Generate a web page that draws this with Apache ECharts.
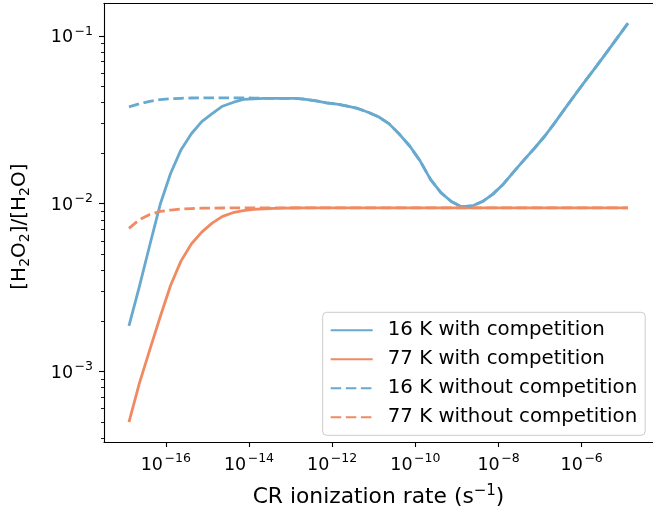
<!DOCTYPE html>
<html>
<head>
<meta charset="utf-8">
<script src="https://cdn.jsdelivr.net/npm/echarts@6/dist/echarts.min.js"></script>
<style>html,body{margin:0;padding:0;background:#fff}#c{width:653px;height:515px}</style>
</head>
<body>
<div id="c"></div>
<script>
// CR ionization rate (s^-1), 1.3e-17 x 10^(k/4)
const rate = [
  1.3e-17, 2.312e-17, 4.111e-17, 7.31e-17,
  1.3e-16, 2.312e-16, 4.111e-16, 7.31e-16,
  1.3e-15, 2.312e-15, 4.111e-15, 7.31e-15,
  1.3e-14, 2.312e-14, 4.111e-14, 7.31e-14,
  1.3e-13, 2.312e-13, 4.111e-13, 7.31e-13,
  1.3e-12, 2.312e-12, 4.111e-12, 7.31e-12,
  1.3e-11, 2.312e-11, 4.111e-11, 7.31e-11,
  1.3e-10, 2.312e-10, 4.111e-10, 7.31e-10,
  1.3e-9, 2.312e-9, 4.111e-9, 7.31e-9,
  1.3e-8, 2.312e-8, 4.111e-8, 7.31e-8,
  1.3e-7, 2.312e-7, 4.111e-7, 7.31e-7,
  1.3e-6, 2.312e-6, 4.111e-6, 7.31e-6,
  1.3e-5
];
const blueWith = [
  0.001864, 0.003198, 0.005642, 0.009865, 0.01511, 0.02087, 0.02606, 0.03078, 0.03431, 0.03802,
  0.04004, 0.04181, 0.04210, 0.04239, 0.04239, 0.04239, 0.04239, 0.04181, 0.04097, 0.03986,
  0.03916, 0.03811, 0.03688, 0.03503, 0.03290, 0.02995, 0.02595, 0.02204, 0.01796, 0.01393,
  0.01162, 0.01028, 0.00958, 0.00968, 0.01028, 0.01138, 0.01304, 0.01546, 0.01821, 0.02136,
  0.02526, 0.03057, 0.03733, 0.04537, 0.05491, 0.06645, 0.08043, 0.09784, 0.1189
];
const orangeWith = [
  0.000499, 0.000847, 0.001344, 0.002107, 0.003248, 0.004538, 0.005742, 0.006755, 0.00765, 0.00838,
  0.00882, 0.00908, 0.00922, 0.00931, 0.00937, 0.00940, 0.00941, 0.00942, 0.00942, 0.00942,
  0.00942, 0.00942, 0.00942, 0.00942, 0.00942, 0.00942, 0.00942, 0.00942, 0.00942, 0.00942,
  0.00942, 0.00942, 0.00942, 0.00942, 0.00942, 0.00942, 0.00942, 0.00942, 0.00942, 0.00942,
  0.00942, 0.00942, 0.00942, 0.00942, 0.00942, 0.00942, 0.00942, 0.00942, 0.00942
];
const blueWithout = [
  0.03765, 0.03933, 0.04069, 0.04164, 0.04210, 0.04239, 0.04255, 0.04265, 0.04268, 0.04268,
  0.04265, 0.04260, 0.04252, 0.04245, 0.04239, 0.04239, 0.04239, 0.04181, 0.04097, 0.03986,
  0.03916, 0.03811, 0.03688, 0.03503, 0.03290, 0.02995, 0.02595, 0.02204, 0.01796, 0.01393,
  0.01162, 0.01028, 0.00958, 0.00968, 0.01028, 0.01138, 0.01304, 0.01546, 0.01821, 0.02136,
  0.02526, 0.03057, 0.03733, 0.04537, 0.05491, 0.06645, 0.08043, 0.09784, 0.1189
];
const orangeWithout = [
  0.007113, 0.008017, 0.008607, 0.00898, 0.00915, 0.00927, 0.00934, 0.00938, 0.00940, 0.00941,
  0.00942, 0.00942, 0.00942, 0.00942, 0.00942, 0.00942, 0.00942, 0.00942, 0.00942, 0.00942,
  0.00942, 0.00942, 0.00942, 0.00942, 0.00942, 0.00942, 0.00942, 0.00942, 0.00942, 0.00942,
  0.00942, 0.00942, 0.00942, 0.00942, 0.00942, 0.00942, 0.00942, 0.00942, 0.00942, 0.00942,
  0.00942, 0.00942, 0.00942, 0.00942, 0.00942, 0.00942, 0.00942, 0.00942, 0.00942
];
const seriesNames = ['16 K with competition', '77 K with competition', '16 K without competition', '77 K without competition'];
const xTicks = [1e-16, 1e-14, 1e-12, 1e-10, 1e-8, 1e-6];
const yTicks = [1e-3, 1e-2, 1e-1];
const yMinorTicks = [4e-4, 5e-4, 6e-4, 7e-4, 8e-4, 9e-4, 2e-3, 3e-3, 4e-3, 5e-3, 6e-3, 7e-3, 8e-3, 9e-3, 2e-2, 3e-2, 4e-2, 5e-2, 6e-2, 7e-2, 8e-2, 9e-2];

const BLUE = '#67a9cf', ORANGE = '#ef8a62';
const FONT = 'DejaVu Sans';
const xMin = Math.pow(10, -17.486), xMax = Math.pow(10, -4.286);
const yMin = Math.pow(10, -3.421), yMax = Math.pow(10, -0.806);

function powLabel(v) {
  const e = Math.round(Math.log10(v));
  const s = e < 0 ? '\u2212' + (-e) : String(e);
  return '{b|10}{s|' + s + '}';
}
const tickRich = {
  b: { fontFamily: FONT, fontSize: 17.5, color: '#000', lineHeight: 22, verticalAlign: 'bottom' },
  s: { fontFamily: FONT, fontSize: 12.5, color: '#000', lineHeight: 14, verticalAlign: 'top', padding: [0, 0, 0, 1.5] }
};
const pair = arr => arr.map((v, i) => [rate[i], v]);
const lineSeries = (name, arr, color, dashed) => ({
  name, type: 'line', data: pair(arr), symbol: 'none', showSymbol: false,
  xAxisIndex: 0, yAxisIndex: 0,
  lineStyle: { color, width: 2.8, type: dashed ? [10.5, 4.6] : 'solid', cap: 'butt' },
  itemStyle: { color }, emphasis: { disabled: true }, z: dashed ? 3 : 2
});

const chart = echarts.init(document.getElementById('c'), null, { renderer: 'canvas' });
chart.setOption({
  animation: false,
  backgroundColor: '#fff',
  grid: { left: 101, top: 3.2, right: -2.4, bottom: 69.9, containLabel: false },
  xAxis: [{
    type: 'log', min: xMin, max: xMax, position: 'bottom',
    name: 'CR ionization rate (s{s|\u22121})', nameLocation: 'middle', nameGap: 42,
    nameTextStyle: { fontFamily: FONT, fontSize: 21.8, color: '#000', lineHeight: 26,
      rich: { s: { fontFamily: FONT, fontSize: 15, color: '#000', lineHeight: 16, verticalAlign: 'top' } } },
    axisLine: { show: true, onZero: false, lineStyle: { color: '#000', width: 1.1 } },
    axisTick: { show: true, inside: false, length: 5, lineStyle: { color: '#000', width: 1.1 }, customValues: xTicks },
    axisLabel: { show: true, margin: 10, formatter: powLabel, rich: tickRich, customValues: xTicks },
    splitLine: { show: false }, minorTick: { show: false }
  }, {
    type: 'log', min: xMin, max: xMax, position: 'top',
    axisLine: { show: true, onZero: false, lineStyle: { color: '#000', width: 1.1 } },
    axisTick: { show: false }, axisLabel: { show: false }, splitLine: { show: false }
  }],
  yAxis: [{
    type: 'log', min: yMin, max: yMax, position: 'left',
    name: '[H{s|2}O{s|2}]/[H{s|2}O]', nameLocation: 'middle', nameGap: 72,
    nameTextStyle: { fontFamily: FONT, fontSize: 20, color: '#000', lineHeight: 24, padding: [0, 8, 0, 0],
      rich: { s: { fontFamily: FONT, fontSize: 14, color: '#000', lineHeight: 14, verticalAlign: 'bottom' } } },
    axisLine: { show: true, onZero: false, lineStyle: { color: '#000', width: 1.1 } },
    axisTick: { show: true, inside: false, length: 5, lineStyle: { color: '#000', width: 1.1 }, customValues: yTicks },
    axisLabel: { show: true, margin: 11, formatter: powLabel, rich: tickRich, customValues: yTicks },
    splitLine: { show: false }
  }, {
    type: 'log', min: yMin, max: yMax, position: 'left', offset: 0,
    axisLine: { show: false },
    axisTick: { show: true, inside: false, length: 3, lineStyle: { color: '#000', width: 0.9 }, customValues: yMinorTicks },
    axisLabel: { show: false, customValues: yMinorTicks }, splitLine: { show: false }
  }],
  legend: {
    orient: 'vertical', left: 322.7, top: 312.3,
    padding: [8, 8, 8, 7], itemGap: 9, itemWidth: 42, itemHeight: 20,
    backgroundColor: 'rgba(255,255,255,0.8)', borderColor: '#cccccc', borderWidth: 1, borderRadius: 4,
    itemStyle: { opacity: 0 },
    textStyle: { fontFamily: FONT, fontSize: 19.8, color: '#000', lineHeight: 20, padding: [0, 0, 0, 10] },
    data: seriesNames, selectedMode: false
  },
  series: [
    lineSeries(seriesNames[0], blueWith, BLUE, false),
    lineSeries(seriesNames[1], orangeWith, ORANGE, false),
    lineSeries(seriesNames[2], blueWithout, BLUE, true),
    lineSeries(seriesNames[3], orangeWithout, ORANGE, true)
  ]
});
</script>
</body>
</html>
